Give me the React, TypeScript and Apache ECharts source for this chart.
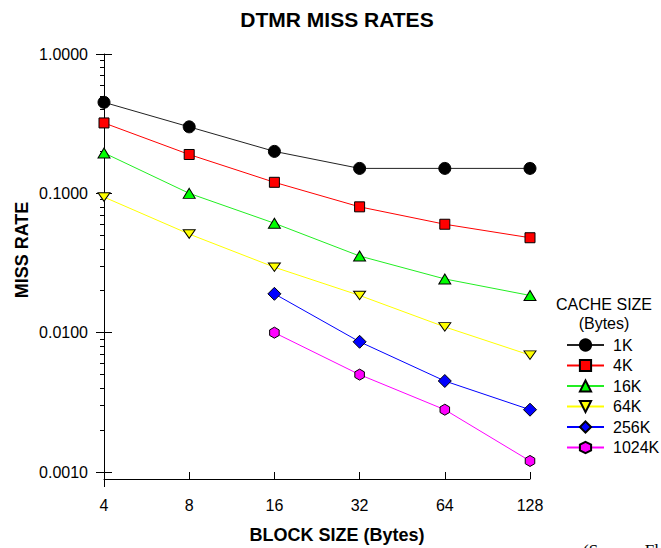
import React, { useEffect, useRef } from 'react';
import * as echarts from 'echarts';

const blockSizes = [4, 8, 16, 32, 64, 128];
const cacheSizes = ['1K', '4K', '16K', '64K', '256K', '1024K'];
const miss1K = [0.45, 0.30, 0.20, 0.151, 0.151, 0.151];
const miss4K = [0.32, 0.19, 0.12, 0.08, 0.06, 0.048];
const miss16K = [0.195, 0.10, 0.061, 0.0355, 0.0243, 0.0185];
const miss64K = [0.094, 0.051, 0.0295, 0.0185, 0.011, 0.0069];
const miss256K = [null, null, 0.019, 0.0086, 0.0045, 0.0028];
const miss1024K = [null, null, 0.010, 0.0050, 0.0028, 0.0012];
const yMajorTicks = [0.001, 0.01, 0.1, 1];
const yMinorTicks = [
  0.002, 0.003, 0.004, 0.005, 0.006, 0.007, 0.008, 0.009,
  0.02, 0.03, 0.04, 0.05, 0.06, 0.07, 0.08, 0.09,
  0.2, 0.3, 0.4, 0.5, 0.6, 0.7, 0.8, 0.9,
];

const allSeries = [miss1K, miss4K, miss16K, miss64K, miss256K, miss1024K];
const lineColors = ['#222222', '#ff0000', '#22ee22', '#ffff00', '#0000ff', '#ff00ff'];
const fillColors = ['#000000', '#ff0000', '#00ff00', '#ffff00', '#0000ff', '#ff00ff'];
const symbols = [
  'circle',
  'rect',
  'triangle',
  'path://M0,0 L10,0 L5,8.5 Z',
  'diamond',
  'path://M5,0 L9.33,2.5 L9.33,7.5 L5,10 L0.67,7.5 L0.67,2.5 Z',
];
const symbolSizes: any[] = [12, 10, [12, 10], [12, 10], 13, 11];

const FONT = 'Arial, "Liberation Sans", sans-serif';

const GRID = { left: 104, top: 54, width: 426, height: 418 };

export default function App() {
  const ref = useRef<HTMLDivElement>(null);
  useEffect(() => {
    if (!ref.current) return;
    const chart = echarts.init(ref.current, null, { renderer: 'svg' });

    const series: any[] = allSeries.map((vals, i) => ({
      name: cacheSizes[i],
      type: 'line',
      xAxisIndex: 0,
      yAxisIndex: 0,
      data: blockSizes
        .map((b, j) => [b, vals[j]])
        .filter((p) => p[1] !== null),
      symbol: symbols[i],
      symbolSize: symbolSizes[i],
      symbolKeepAspect: true,
      showAllSymbol: true,
      lineStyle: { color: lineColors[i], width: 1 },
      itemStyle: { color: fillColors[i], borderColor: '#000', borderWidth: 1 },
      z: 10 - i,
    }));

    const hiddenX = (gridIndex: number) => ({
      type: 'log',
      logBase: 2,
      gridIndex,
      min: 4,
      max: 128,
      show: false,
    });

    const option: any = {
      animation: false,
      backgroundColor: '#ffffff',
      title: {
        text: 'DTMR MISS RATES',
        left: 332,
        top: 4,
        textAlign: 'center',
        textStyle: { fontFamily: FONT, fontWeight: 'bold', fontSize: 21, color: '#000' },
      },
      grid: [
        { ...GRID, containLabel: false },
        { ...GRID, containLabel: false },
        { ...GRID, containLabel: false },
      ],
      legend: {
        orient: 'vertical',
        left: 561,
        top: 332,
        itemWidth: 37,
        itemHeight: 14,
        itemGap: 4.5,
        data: cacheSizes,
        textStyle: { fontFamily: FONT, fontSize: 16, color: '#000', padding: [0, 0, 0, 4] },
      },
      xAxis: [
        {
          type: 'log',
          logBase: 2,
          gridIndex: 0,
          min: 4,
          max: 128,
          interval: 1,
          offset: 7,
          axisLine: { show: true, lineStyle: { color: '#000', width: 1 } },
          axisTick: { show: true, inside: true, length: 7, lineStyle: { color: '#000' } },
          axisLabel: {
            show: true,
            margin: 18,
            fontFamily: FONT,
            fontSize: 16,
            color: '#000',
            formatter: (v: number) => String(Math.round(v)),
          },
          splitLine: { show: false },
        },
        hiddenX(1),
        hiddenX(2),
      ],
      yAxis: [
        {
          type: 'log',
          logBase: 10,
          gridIndex: 0,
          min: 0.001,
          max: 1,
          interval: 1,
          axisLine: { show: true, lineStyle: { color: '#000', width: 1 } },
          axisTick: { show: true, inside: false, length: 8, lineStyle: { color: '#000' } },
          axisLabel: {
            show: true,
            margin: 16,
            fontFamily: FONT,
            fontSize: 16,
            color: '#000',
            formatter: (v: number) => v.toFixed(4),
          },
          splitLine: { show: false },
        },
        {
          type: 'log',
          logBase: 10,
          gridIndex: 1,
          min: 0.001,
          max: 1,
          axisLine: { show: false },
          axisLabel: { show: false },
          splitLine: { show: false },
          axisTick: {
            show: true,
            inside: true,
            length: 8,
            customValues: yMajorTicks,
            lineStyle: { color: '#000' },
          },
        },
        {
          type: 'log',
          logBase: 10,
          gridIndex: 2,
          min: 0.001,
          max: 1,
          axisLine: { show: false },
          axisLabel: { show: false },
          splitLine: { show: false },
          axisTick: {
            show: true,
            inside: false,
            length: 4,
            customValues: yMinorTicks,
            lineStyle: { color: '#000' },
          },
        },
      ],
      graphic: [
        {
          type: 'line',
          shape: { x1: 104.5, y1: 472, x2: 104.5, y2: 487 },
          style: { stroke: '#000', lineWidth: 1 },
        },
        {
          type: 'text',
          x: 22,
          y: 250,
          rotation: Math.PI / 2,
          style: {
            text: 'MISS RATE',
            font: 'bold 18px ' + FONT,
            fill: '#000',
            textAlign: 'center',
            textVerticalAlign: 'middle',
          },
        },
        {
          type: 'text',
          x: 337,
          y: 535,
          style: {
            text: 'BLOCK SIZE (Bytes)',
            font: 'bold 18px ' + FONT,
            fill: '#000',
            textAlign: 'center',
            textVerticalAlign: 'middle',
          },
        },
        {
          type: 'text',
          x: 604,
          y: 304,
          style: {
            text: 'CACHE SIZE',
            font: '16px ' + FONT,
            fill: '#000',
            textAlign: 'center',
            textVerticalAlign: 'middle',
          },
        },
        {
          type: 'text',
          x: 604,
          y: 323,
          style: {
            text: '(Bytes)',
            font: '16px ' + FONT,
            fill: '#000',
            textAlign: 'center',
            textVerticalAlign: 'middle',
          },
        },
        {
          type: 'text',
          x: 583,
          y: 542,
          style: {
            text: '(Source: Flynn)',
            font: '17px "Liberation Serif", "Times New Roman", serif',
            fill: '#000',
            textAlign: 'left',
            textVerticalAlign: 'top',
          },
        },
      ],
      series,
    };

    chart.setOption(option);
    return () => chart.dispose();
  }, []);

  return (
    <div
      ref={ref}
      style={{ position: 'absolute', left: 0, top: 0, width: 661, height: 548 }}
    />
  );
}
